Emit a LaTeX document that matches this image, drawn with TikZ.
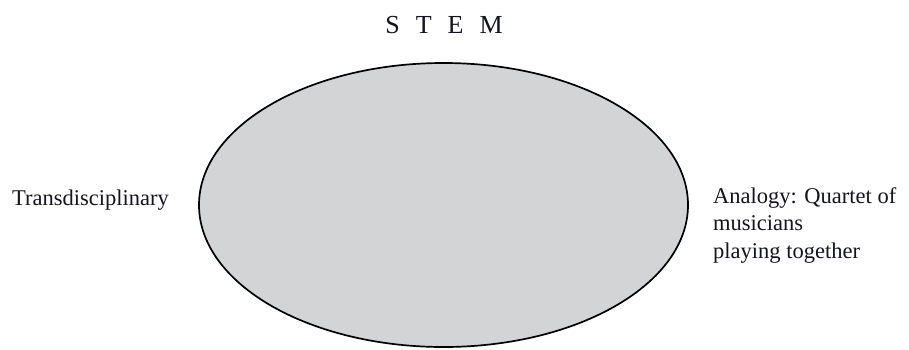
\documentclass[tikz,border=0pt]{standalone}
\usepackage{fontspec}
\setmainfont{Liberation Serif}
\usepackage{xcolor}
\definecolor{ink}{RGB}{20,20,30}
\definecolor{ashgrey}{RGB}{211,212,214}
\usetikzlibrary{positioning}

\begin{document}
\begin{tikzpicture}[
  x=1pt, y=-1pt,
  label/.style={font=\fontsize{22.5}{27.5}\selectfont\color{ink},
                inner sep=0pt, align=left},
  heading/.style={font=\fontsize{26}{30}\selectfont\color{ink},
                  inner sep=0pt},
]
  \useasboundingbox (0,0) rectangle (909,349);

  %% Central ellipse
  \draw[line width=1.7pt, fill=ashgrey]
    (443.5,205) ellipse [x radius=244.5, y radius=142];

  %% Heading
  \node[heading, anchor=base] (stem) at (444,33)
    {S\hspace{16pt}T\hspace{16pt}E\hspace{16pt}M};

  %% Side labels
  \node[label, anchor=base west] (trans) at (12,205) {Transdisciplinary};
  \node[label, anchor=base west] (analogy) at (713,258)
    {Analogy: Quartet of\\musicians\\playing together};
\end{tikzpicture}
\end{document}
